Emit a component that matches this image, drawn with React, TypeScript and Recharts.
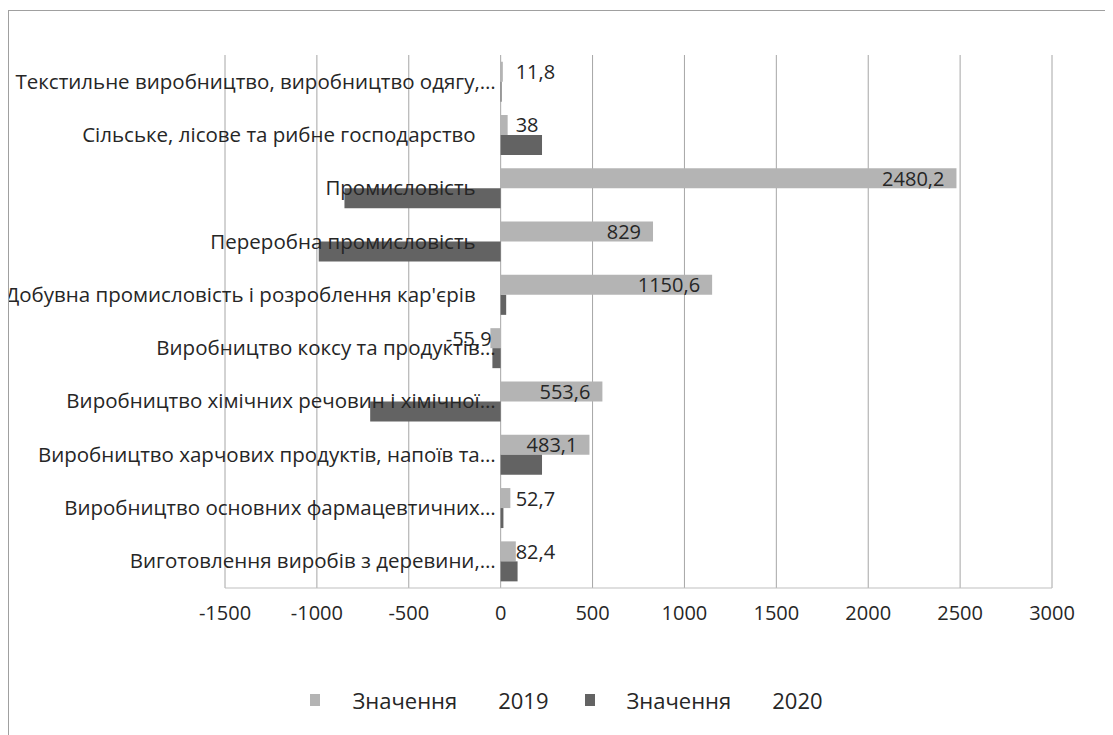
import React from 'react';
import { BarChart, Bar, XAxis, YAxis, CartesianGrid, LabelList } from 'recharts';

const categories = [
  'Текстильне виробництво, виробництво одягу,…',
  'Сільське, лісове та рибне господарство',
  'Промисловість',
  'Переробна промисловість',
  'Добувна промисловість і розроблення кар\'єрів',
  'Виробництво коксу та продуктів…',
  'Виробництво хімічних речовин і хімічної…',
  'Виробництво харчових продуктів, напоїв та…',
  'Виробництво основних фармацевтичних…',
  'Виготовлення виробів з деревини,…',
];
const values2019 = [11.8, 38, 2480.2, 829, 1150.6, -55.9, 553.6, 483.1, 52.7, 82.4];
const values2020 = [5, 225, -850, -990, 30, -45, -710, 225, 15, 92];
const xTicks = [-1500, -1000, -500, 0, 500, 1000, 1500, 2000, 2500, 3000];
const seriesLabel = 'Значення';
const seriesYears = ['2019', '2020'];
const seriesColors = ['#b4b4b4', '#636363'];

const data = categories.map((name, i) => ({ name, v2019: values2019[i], v2020: values2020[i] }));

const TEXT = '#262626';
const FONT = '"Open Sans", sans-serif';

// zero position of a bar, whatever way the rect is given
const zeroOf = (x: number, width: number, v: number) => (v < 0 && width > 0 ? x + width : x);

const ValueLabel = (props: any) => {
  const { x, y, width, height, index } = props;
  const v = values2019[index];
  const text = String(v).replace('.', ',');
  const zero = zeroOf(x, width, v);
  const w = Math.abs(width);
  let tx = zero + 15;
  let anchor: 'start' | 'end' = 'start';
  if (v < 0) {
    tx = zero - 9;
    anchor = 'end';
  } else if (w > text.length * 12 + 24) {
    tx = zero + w - 12;
    anchor = 'end';
  }
  return (
    <text x={tx} y={y + height / 2} dominantBaseline="central" textAnchor={anchor}
      fill={TEXT} fontSize={20} fontFamily={FONT}>
      {text}
    </text>
  );
};

const CategoryLabel = (props: any) => {
  const { x, y, width, index } = props;
  const zero = zeroOf(x, width, values2020[index]);
  const name = categories[index];
  // cut names keep their ellipsis hanging past the label box
  const right = name.endsWith('…') ? zero - 5 : zero - 25;
  return (
    <text x={right} y={y - 1} dominantBaseline="central" textAnchor="end"
      fill={TEXT} fontSize={20.5} fontFamily={FONT}>
      {name}
    </text>
  );
};

export default function App() {
  return (
    <div style={{ position: 'relative', marginTop: 2, width: 1105, height: 725,
      borderTop: '1px solid #a0a0a0', borderLeft: '1px solid #a0a0a0', background: '#fff' }}>
      <BarChart width={1104} height={724} data={data} layout="vertical"
        margin={{ top: 44, right: 61, bottom: 117, left: 216 }}
        barCategoryGap="12.5%" barGap={0}>
        <CartesianGrid horizontal={false} stroke="#a6a6a6" />
        <XAxis type="number" domain={[-1500, 3000]} ticks={xTicks} interval={0}
          allowDataOverflow tickLine={false} tickSize={0} tickMargin={18} height={30}
          axisLine={{ stroke: '#bfbfbf' }}
          tick={{ fill: TEXT, fontSize: 20, fontFamily: FONT }} />
        <YAxis type="category" dataKey="name" hide width={0} />
        <Bar dataKey="v2019" fill={seriesColors[0]} isAnimationActive={false}>
          <LabelList dataKey="v2019" content={ValueLabel} />
        </Bar>
        <Bar dataKey="v2020" fill={seriesColors[1]} isAnimationActive={false}>
          <LabelList dataKey="name" content={CategoryLabel} />
        </Bar>
      </BarChart>
      <div style={{ position: 'absolute', left: 10, right: 0, top: 674, display: 'flex',
        justifyContent: 'center', fontFamily: FONT, fontSize: 22, color: TEXT }}>
        {seriesYears.map((yr, i) => (
          <div key={yr} style={{ display: 'flex', alignItems: 'center', marginRight: i === 0 ? 36 : 0 }}>
            <span style={{ width: 10, height: 12, background: seriesColors[i], marginRight: 32 }} />
            <span>{seriesLabel}</span>
            <span style={{ marginLeft: 41 }}>{yr}</span>
          </div>
        ))}
      </div>
    </div>
  );
}
